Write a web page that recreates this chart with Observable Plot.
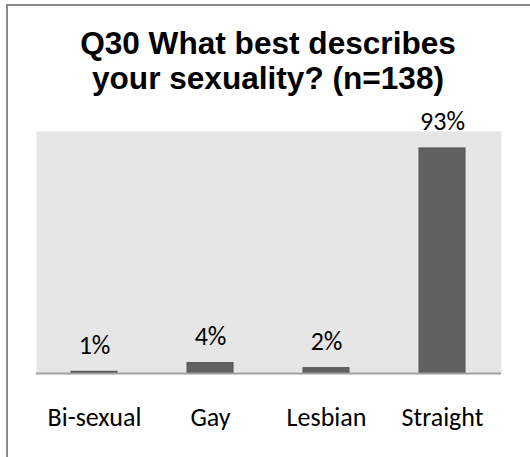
<!DOCTYPE html>
<html>
<head>
<meta charset="utf-8">
<script src="https://cdn.jsdelivr.net/npm/d3@7"></script>
<script src="https://cdn.jsdelivr.net/npm/@observablehq/plot@0.6"></script>
<style>
  html, body { margin: 0; padding: 0; background: #fff; }
  #wrap { position: relative; width: 530px; height: 457px; overflow: hidden; }
  #frame { position: absolute; left: 6px; top: 4px; width: 600px; height: 600px;
           border-left: 2px solid #8a8a8a; border-top: 2px solid #8a8a8a; box-sizing: border-box; }
  #title { position: absolute; left: 7px; width: 522px; top: 26px; text-align: center;
           font-family: "Liberation Sans", Arial, sans-serif; font-weight: bold;
           font-size: 31.6px; line-height: 35px; color: #000; }
  #chart { position: absolute; left: 0; top: 100px; }
</style>
</head>
<body>
<div id="wrap">
  <div id="frame"></div>
  <div id="title">Q30 What best describes<br>your sexuality? (n=138)</div>
  <div id="chart"></div>
</div>
<script>
const categories = ["Bi-sexual", "Gay", "Lesbian", "Straight"];
const values = [0.7, 4.3, 2.2, 93];
const labels = ["1%", "4%", "2%", "93%"];

const data = categories.map((c, i) => ({category: c, value: values[i], label: labels[i]}));
const labelFont = "Carlito, Calibri, Lato, sans-serif";

const chart = Plot.plot({
  width: 530,
  height: 357,
  marginTop: 31,
  marginBottom: 84,
  marginLeft: 36,
  marginRight: 29,
  style: {background: "transparent", fontFamily: labelFont},
  x: {domain: categories, paddingInner: 0.6, paddingOuter: 0.3, label: null},
  y: {domain: [0, 100], axis: null},
  marks: [
    Plot.frame({fill: "#e6e6e6", stroke: null}),
    Plot.barY(data, {x: "category", y: "value", fill: "#616161", stroke: "#505050", strokeWidth: 1}),
    Plot.ruleY([0], {stroke: "#a0a0a0", strokeWidth: 2}),
    Plot.text(data, {x: "category", y: "value", text: "label", lineAnchor: "bottom", dy: -18,
                     fontSize: 26, fill: "#000"}),
    Plot.axisX({tickSize: 0, tickPadding: 34, fontSize: 26, color: "#000", label: null})
  ]
});
document.getElementById("chart").appendChild(chart);
</script>
</body>
</html>
